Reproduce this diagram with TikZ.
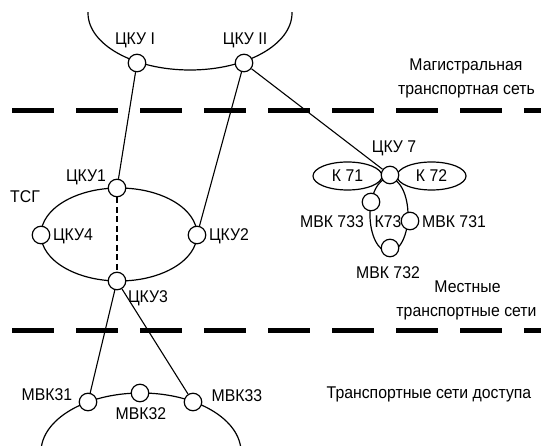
\documentclass[tikz,border=0pt]{standalone}
\usepackage{fontspec}
\setmainfont{Liberation Sans}[FakeStretch=0.93]
\usetikzlibrary{shapes.geometric}
\begin{document}
\begin{tikzpicture}[x=1bp,y=-1bp,
  every node/.style={font=\fontsize{17bp}{24bp}\selectfont, inner sep=0pt},
  nd/.style={circle, draw, fill=white, line width=1.2bp, minimum size=17.5bp, inner sep=0pt},
  net/.style={line width=1.2bp},
  link/.style={line width=1.1bp},
  dlink/.style={line width=1.3bp, dash pattern=on 6bp off 3.5bp},
  sep/.style={line width=5bp, dash pattern=on 42bp off 22bp},
  lbl/.style={anchor=base},
  kell/.style={ellipse, draw, line width=1.2bp, minimum width=69bp, minimum height=28bp, inner sep=0pt}
]
\useasboundingbox (0,0) rectangle (541,446);
% separators
\draw[sep] (12,111) -- (541,111);
\draw[sep] (12,330) -- (541,330);
% network rings
\begin{scope}
  \clip (0,13) rectangle (541,446);
  \draw[net] (190,13) ellipse [x radius=102, y radius=57];
  \draw[net] (141,452) ellipse [x radius=100, y radius=59];
\end{scope}
\draw[net] (119,234.5) ellipse [x radius=78, y radius=46.5];
\draw[net] (389,215) ellipse [x radius=19, y radius=37];
% nodes
\node[kell] (k71) at (347.5,176) {К 71};
\node[kell] (k72) at (431.5,176) {К 72};
\node[nd] (c1) at (137,63) {};
\node[nd] (c2) at (244,63) {};
\node[nd] (t1) at (117,188) {};
\node[nd] (t4) at (41,235) {};
\node[nd] (t2) at (197,235) {};
\node[nd] (t3) at (117,281) {};
\node[nd] (c7) at (390,175) {};
\node[nd] (m733) at (371,202) {};
\node[nd] (m731) at (410,221) {};
\node[nd] (m732) at (390,248) {};
\node[nd] (a31) at (88,402) {};
\node[nd] (a32) at (140,393) {};
\node[nd] (a33) at (193,402) {};
% labels
\node[lbl] (lc1) at (135,45) {ЦКУ I};
\node[lbl] (lc2) at (245,45) {ЦКУ II};
\node[lbl] (lc7) at (394,153) {ЦКУ 7};
\node[lbl] (l733) at (332,228) {МВК 733};
\node[lbl] (lk73) at (388,228) {К73};
\node[lbl] (l731) at (454,228) {МВК 731};
\node[lbl] (l732) at (388,278) {МВК 732};
\node[lbl] (lt1) at (86,181.5) {ЦКУ1};
\node[lbl] (ltsg) at (25,203) {ТСГ};
\node[lbl] (lt4) at (73,241) {ЦКУ4};
\node[lbl] (lt2) at (229,241) {ЦКУ2};
\node[lbl] (lt3) at (148,302) {ЦКУ3};
\node[lbl] (l31) at (47,400) {МВК31};
\node[lbl] (l32) at (141,419) {МВК32};
\node[lbl] (l33) at (237,401.5) {МВК33};
\node[lbl] (tm1) at (466,71) {Магистральная};
\node[lbl] (tm2) at (466.5,95) {транспортная сеть};
\node[lbl] (tl1) at (467.5,292) {Местные};
\node[lbl] (tl2) at (466.5,316) {транспортные сети};
\node[lbl] (ta) at (429,398) {Транспортные сети доступа};
% connectors
\draw[link] (c1) -- (t1);
\draw[link] (c2) -- (t2);
\draw[link] (c2) -- (c7);
\draw[dlink] (t1) -- (t3);
\draw[link] (t3) -- (a31);
\draw[link] (t3) -- (a33);
\end{tikzpicture}
\end{document}
